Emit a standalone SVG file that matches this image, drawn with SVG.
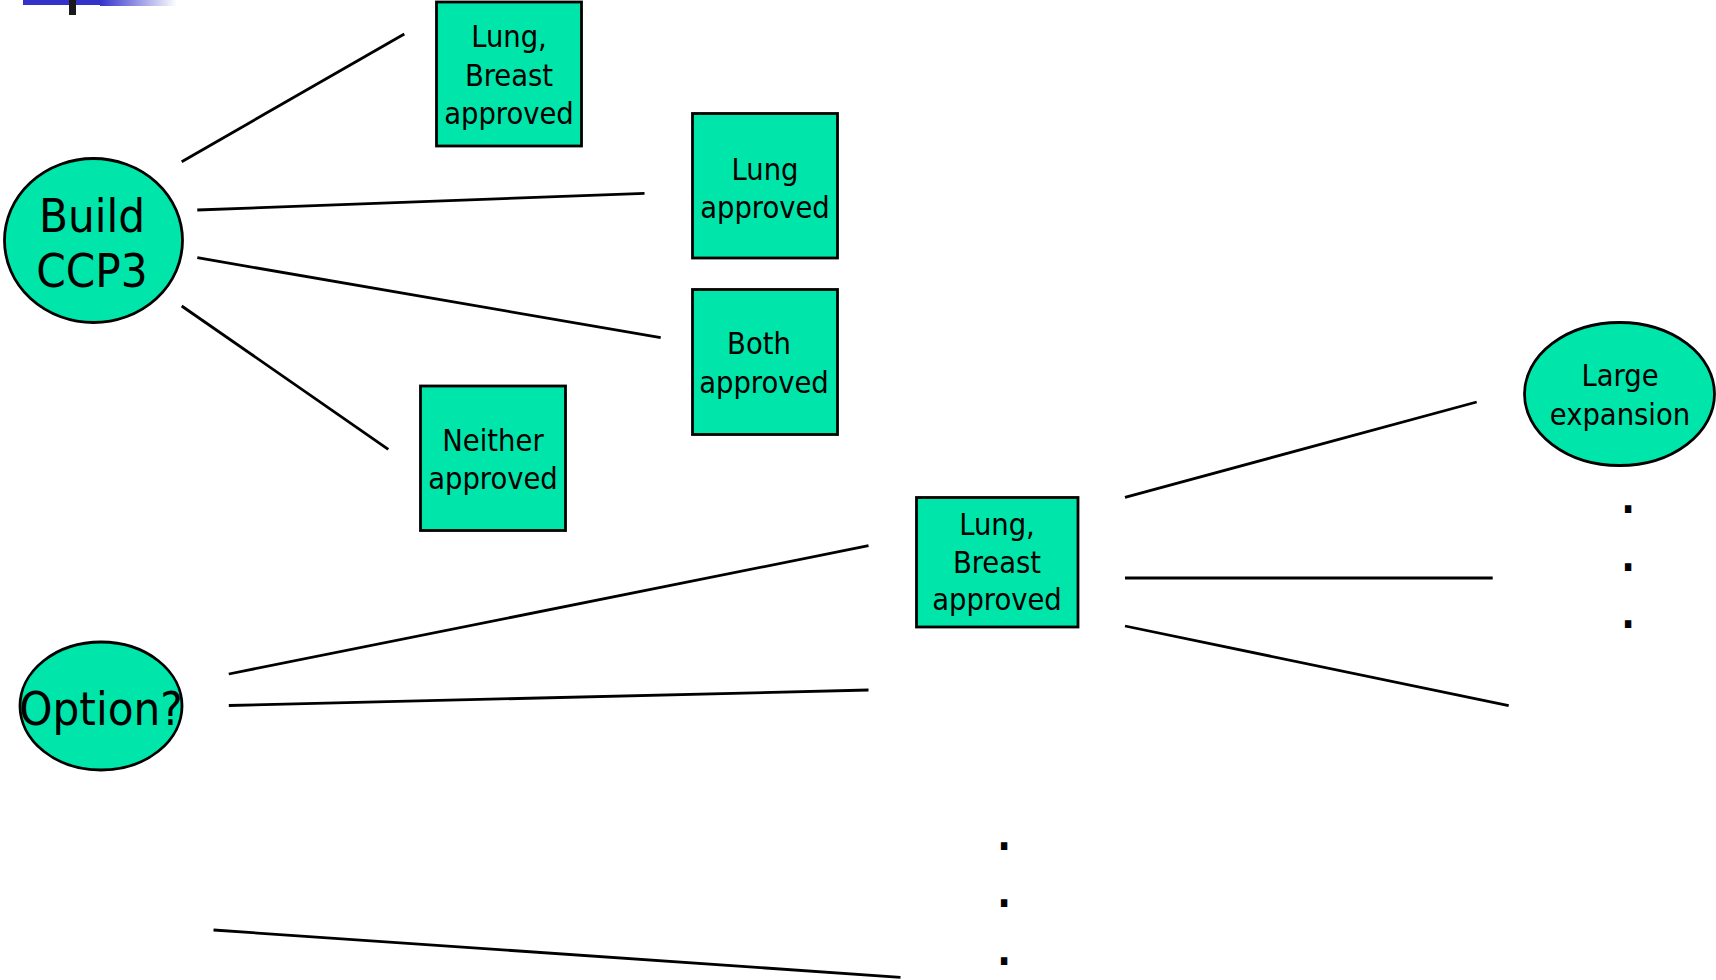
<svg xmlns="http://www.w3.org/2000/svg" width="1716" height="980" viewBox="0 0 1716 980">
<defs>
<linearGradient id="fade" x1="0" y1="0" x2="1" y2="0">
<stop offset="0" stop-color="#3333CC"/>
<stop offset="1" stop-color="#3333CC" stop-opacity="0"/>
</linearGradient>
</defs>
<style>
.node{fill:#00E5AA;stroke:#000;stroke-width:2.8}
.t{font-family:"DejaVu Sans Condensed","DejaVu Sans",sans-serif;font-stretch:condensed;fill:#000;text-anchor:middle}
.s{font-size:30.5px}
.b{font-size:47px}
.c line{stroke:#000;stroke-width:2.8}
.dot{font-family:"DejaVu Sans Condensed","DejaVu Sans",sans-serif;font-size:40px;font-weight:bold;fill:#000;text-anchor:middle}
</style>
<rect width="1716" height="980" fill="#fff"/>
<g id="header">
<rect x="23" y="0" width="77" height="5" fill="#3333CC"/>
<rect x="100" y="0" width="77" height="6" fill="url(#fade)"/>
<rect x="69" y="0" width="7" height="15" fill="#1a1a1a"/>
</g>
<g class="c" id="connectors">
<line x1="181.7" y1="161.7" x2="404.3" y2="34"/>
<line x1="197.3" y1="210" x2="644.5" y2="193.3"/>
<line x1="197.3" y1="257.7" x2="660.7" y2="337.7"/>
<line x1="181.7" y1="306" x2="388.3" y2="449.3"/>
<line x1="228.8" y1="674" x2="868.5" y2="545.7"/>
<line x1="228.8" y1="705.5" x2="868.5" y2="690"/>
<line x1="213.5" y1="930" x2="900.5" y2="977.3"/>
<line x1="1125" y1="497.3" x2="1476.7" y2="402"/>
<line x1="1125" y1="578" x2="1492.7" y2="578"/>
<line x1="1125" y1="626" x2="1508.7" y2="705.7"/>
</g>
<g id="build">
<ellipse class="node" cx="93.5" cy="240.5" rx="89" ry="82"/>
<text class="t b" x="92" y="232">Build</text>
<text class="t b" x="92" y="287">CCP3</text>
</g>
<g id="option">
<ellipse class="node" cx="101" cy="706" rx="81" ry="64"/>
<text class="t b" x="101" y="725">Option?</text>
</g>
<g id="lung-breast-1">
<rect class="node" x="436.5" y="2" width="145" height="144"/>
<text class="t s" x="509" y="47">Lung,</text>
<text class="t s" x="509" y="86">Breast</text>
<text class="t s" x="509" y="124">approved</text>
</g>
<g id="lung">
<rect class="node" x="692.5" y="113.5" width="145" height="144.5"/>
<text class="t s" x="765" y="180">Lung</text>
<text class="t s" x="765" y="218">approved</text>
</g>
<g id="both">
<rect class="node" x="692.5" y="289.5" width="145" height="145"/>
<text class="t s" x="759" y="354">Both</text>
<text class="t s" x="764" y="393">approved</text>
</g>
<g id="neither">
<rect class="node" x="420.5" y="386" width="145" height="144.5"/>
<text class="t s" x="493" y="451">Neither</text>
<text class="t s" x="493" y="489">approved</text>
</g>
<g id="lung-breast-2">
<rect class="node" x="916.5" y="497.5" width="161.5" height="129.5"/>
<text class="t s" x="997" y="535">Lung,</text>
<text class="t s" x="997" y="573">Breast</text>
<text class="t s" x="997" y="610">approved</text>
</g>
<g id="large-expansion">
<ellipse class="node" cx="1619.5" cy="394" rx="95" ry="71.5"/>
<text class="t s" x="1620" y="386">Large</text>
<text class="t s" x="1620" y="425">expansion</text>
</g>
<g id="dots-right">
<text class="dot" x="1628" y="513">.</text>
<text class="dot" x="1628" y="571">.</text>
<text class="dot" x="1628" y="628">.</text>
</g>
<g id="dots-bottom">
<text class="dot" x="1004" y="850">.</text>
<text class="dot" x="1004" y="907">.</text>
<text class="dot" x="1004" y="965">.</text>
</g>
</svg>
